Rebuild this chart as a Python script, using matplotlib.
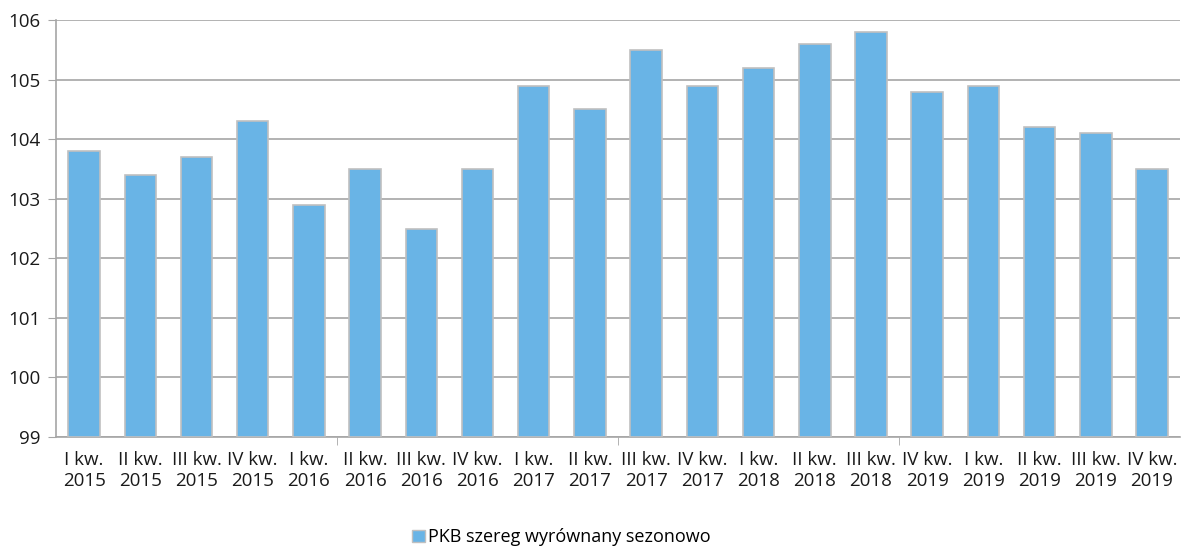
import matplotlib.pyplot as plt
from matplotlib.patches import Patch

plt.rcParams['font.family'] = ['Open Sans', 'DejaVu Sans']

kwartaly = ["I kw.", "II kw.", "III kw.", "IV kw."]
lata = ["2015", "2015", "2015", "2015", "2016", "2016", "2016", "2016",
        "2017", "2017", "2017", "2017", "2018", "2018", "2018", "2019",
        "2019", "2019", "2019", "2019"]
etykiety = [kwartaly[i % 4] + "\n" + lata[i] for i in range(20)]

pkb = [103.8, 103.4, 103.7, 104.3, 102.9, 103.5, 102.5, 103.5, 104.9, 104.5,
       105.5, 104.9, 105.2, 105.6, 105.8, 104.8, 104.9, 104.2, 104.1, 103.5]

kolor = "#69b4e6"
krawedz = "#c0c0c0"

fig = plt.figure(figsize=(11.82, 5.56), dpi=100)
ax = fig.add_axes([0.0474, 0.214, 0.951, 0.75])

x = list(range(len(pkb)))
ax.bar(x, [v - 99 for v in pkb], bottom=99, width=0.56,
       color=kolor, edgecolor=krawedz, linewidth=1.2, zorder=3)

ax.set_ylim(99, 106)
ax.set_xlim(-0.5, len(pkb) - 0.5)
ax.set_yticks(range(99, 107))
ax.yaxis.grid(True, color="#a6a6a6", linewidth=1.2, zorder=0)

ax.set_xticks(x)
ax.set_xticklabels(etykiety, fontsize=13.5, color="#1a1a1a", linespacing=1.25)
ax.tick_params(axis="x", length=0, pad=10)
ax.set_xticks([4.5, 9.5, 14.5], minor=True)
ax.tick_params(axis="x", which="minor", length=6, color="#a6a6a6")
ax.tick_params(axis="y", labelsize=13.5, length=6, color="#a6a6a6",
               labelcolor="#1a1a1a", pad=5)

for s in ["top", "right"]:
    ax.spines[s].set_visible(False)
for s in ["left", "bottom"]:
    ax.spines[s].set_color("#a6a6a6")
    ax.spines[s].set_linewidth(1.2)

fig.legend(handles=[Patch(facecolor=kolor, edgecolor=krawedz,
                          label="PKB szereg wyrównany sezonowo")],
           loc="lower center", bbox_to_anchor=(0.475, -0.012), frameon=False,
           fontsize=13, handlelength=0.7, handleheight=0.7, handletextpad=0.2)

fig.savefig("out.png", dpi=100)
